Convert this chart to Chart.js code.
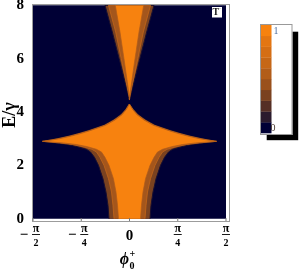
<!DOCTYPE html>
<html>
<head>
<meta charset="utf-8">
<script src="https://cdn.jsdelivr.net/npm/chart.js@4.4.1/dist/chart.umd.min.js"></script>
<style>
  html, body { margin: 0; padding: 0; background: #fff; }
  #chart { display: block; }
</style>
</head>
<body>
<canvas id="chart" width="300" height="273"></canvas>
<script>
// plot range: phi0+ (rad) and E/gamma
const PHI_RANGE = [-Math.PI / 2, Math.PI / 2];
const E_RANGE = [0, 8];

// lower star lobe: half widths (rad) of the contour boundaries at each E
const STAR_E     = [0, 0.5, 1, 1.5, 2, 2.3, 2.5, 2.6, 2.7, 2.78, 2.84, 2.9, 2.95, 3.0, 3.1, 3.2, 3.3, 3.5, 3.7, 3.9, 4.1, 4.3];
const STAR_OUTER = [0.334, 0.350, 0.383, 0.432, 0.505, 0.570, 0.635, 0.700, 0.847, 1.010, 1.205, 1.417, 1.303, 1.189, 0.993, 0.831, 0.684, 0.423, 0.269, 0.147, 0.065, 0.008];
const STAR_MID   = [0.252, 0.269, 0.293, 0.342, 0.415, 0.480, 0.537, 0.611, 0.757, 0.928, 1.140, 1.417, 1.279, 1.164, 0.969, 0.806, 0.660, 0.407, 0.252, 0.134, 0.057, 0.003];
const STAR_INNER = [0.179, 0.195, 0.220, 0.261, 0.334, 0.399, 0.456, 0.537, 0.684, 0.863, 1.075, 1.417, 1.262, 1.140, 0.945, 0.782, 0.643, 0.391, 0.236, 0.122, 0.049, 0];

// upper wedge
const WEDGE_E     = [4.46, 4.55, 5, 6, 7, 8];
const WEDGE_OUTER = [0, 0.010, 0.059, 0.168, 0.280, 0.399];
const WEDGE_MID   = [0, 0.005, 0.044, 0.135, 0.225, 0.342];
const WEDGE_INNER = [0, 0, 0.028, 0.090, 0.155, 0.231];

// colour levels 0 .. 1 (bottom to top of the bar legend)
const LEVEL_COLORS = ['#000035', '#2b1b2d', '#552f25', '#7a4220', '#9a511c', '#b25d19', '#c66716', '#d56e14', '#e47612', '#f7820f'];

// ticks
const Y_TICKS = [0, 2, 4, 6, 8];
const X_TICKS = [-Math.PI / 2, -Math.PI / 4, 0, Math.PI / 4, Math.PI / 2];
const X_TICK_SIGN = ['\u2212', '\u2212', '', '', ''];
const X_TICK_NUM = ['\u03c0', '\u03c0', '0', '\u03c0', '\u03c0'];
const X_TICK_DEN = ['2', '4', '', '4', '2'];

const SERIF = '"Liberation Serif", "DejaVu Serif", serif';

/**
 * Closed outline of a symmetric region: left edge going up, right edge coming down
 */
function outline(es, widths) {
    const left = es.map((e, i) => ({ x: -widths[i], y: e }));
    const right = es.map((e, i) => ({ x: widths[i], y: e })).reverse();
    return left.concat(right);
}

function region(data, fillColor, lineColor, lineWidth, order) {
    return {
        data: data,
        showLine: true,
        fill: 'shape',
        backgroundColor: fillColor,
        borderColor: lineColor,
        borderWidth: lineWidth,
        pointRadius: 0,
        tension: 0,
        order: order,
    };
}

const background = [
    { x: PHI_RANGE[0], y: E_RANGE[0] },
    { x: PHI_RANGE[1], y: E_RANGE[0] },
    { x: PHI_RANGE[1], y: E_RANGE[1] },
    { x: PHI_RANGE[0], y: E_RANGE[1] },
];

// frame, tick labels, titles and bar legend
const decorations = {
    id: 'decorations',
    afterDraw(chart) {
        const ctx = chart.ctx;
        const area = chart.chartArea;
        const xs = chart.scales.x;

        ctx.save();
        // frame
        ctx.strokeStyle = '#9c9c9c';
        ctx.lineWidth = 1;
        ctx.strokeRect(Math.round(area.left) + 0.5, Math.round(area.top) + 0.5,
            Math.round(area.right - area.left) - 1, Math.round(area.bottom - area.top) - 1);

        // x ticks and labels
        ctx.fillStyle = '#000';
        X_TICKS.forEach((v, i) => {
            const px = xs.getPixelForValue(v);
            ctx.strokeStyle = '#777';
            ctx.lineWidth = 1;
            ctx.beginPath();
            ctx.moveTo(px, area.bottom - 1);
            ctx.lineTo(px, area.bottom - 4);
            ctx.stroke();

            ctx.textAlign = 'center';
            ctx.textBaseline = 'middle';
            if (!X_TICK_DEN[i]) {
                ctx.font = 'bold 15px ' + SERIF;
                ctx.fillText(X_TICK_NUM[i], px, 236);
                return;
            }
            const fx = px + (X_TICK_SIGN[i] ? 3 : 0);
            ctx.font = 'bold 12px ' + SERIF;
            ctx.fillText(X_TICK_NUM[i], fx, 229);
            ctx.font = 'bold 10px ' + SERIF;
            ctx.fillText(X_TICK_DEN[i], fx, 243);
            ctx.strokeStyle = '#000';
            ctx.lineWidth = 0.9;
            ctx.beginPath();
            ctx.moveTo(fx - 4, 234.5);
            ctx.lineTo(fx + 4, 234.5);
            ctx.stroke();
            if (X_TICK_SIGN[i]) {
                ctx.font = 'bold 15px ' + SERIF;
                ctx.fillText(X_TICK_SIGN[i], fx - 12, 235);
            }
        });

        // x title
        ctx.textBaseline = 'alphabetic';
        ctx.textAlign = 'center';
        ctx.font = 'bold italic 16px ' + SERIF;
        ctx.fillText('\u03d5', 124.5, 264);
        ctx.textAlign = 'left';
        ctx.font = 'bold 10px ' + SERIF;
        ctx.fillText('0', 129.5, 268.5);
        ctx.fillText('+', 129.5, 257);

        // y title
        ctx.save();
        ctx.translate(10, 115);
        ctx.rotate(-Math.PI / 2);
        ctx.textAlign = 'center';
        ctx.textBaseline = 'middle';
        ctx.font = 'bold 18px ' + SERIF;
        ctx.fillText('E/\u03b3', 0, 0);
        ctx.restore();

        // series label in the corner
        ctx.fillStyle = '#fff';
        ctx.fillRect(212, 7, 10, 10.5);
        ctx.fillStyle = '#222';
        ctx.textAlign = 'center';
        ctx.textBaseline = 'middle';
        ctx.font = 'bold 10px ' + SERIF;
        ctx.fillText('T', 215.8, 12.5);
        ctx.fillStyle = '#999';
        ctx.font = '7px ' + SERIF;
        ctx.fillText('\u2212', 219.8, 9);

        // bar legend with drop shadow
        const bx = 260, by = 24, bw = 32.5, bh = 111;
        ctx.fillStyle = '#000';
        ctx.fillRect(bx + 6.7, by + 7.7, bw - 1, bh - 2.5);
        ctx.fillStyle = '#fff';
        ctx.fillRect(bx, by, bw, bh);
        const sh = (bh - 3) / LEVEL_COLORS.length;
        LEVEL_COLORS.forEach((c, i) => {
            ctx.fillStyle = c;
            ctx.fillRect(bx + 1, by + bh - 2 - (i + 1) * sh, 10.5, sh + 0.3);
        });
        ctx.strokeStyle = '#999';
        ctx.lineWidth = 1;
        ctx.strokeRect(bx + 0.5, by + 0.5, bw - 1, bh - 1);
        ctx.textAlign = 'left';
        ctx.font = '10px ' + SERIF;
        ctx.fillStyle = '#4f6f9f';
        ctx.fillText('1', 273.5, 31);
        ctx.fillStyle = '#4a3a30';
        ctx.fillText('0', 270.5, 128);
        ctx.restore();
    },
};

new Chart(document.getElementById('chart'), {
    type: 'scatter',
    data: {
        datasets: [
            region(background, LEVEL_COLORS[0], LEVEL_COLORS[0], 0, 10),
            region(outline(STAR_E, STAR_OUTER), LEVEL_COLORS[3], '#1a1030', 1, 6),
            region(outline(WEDGE_E, WEDGE_OUTER), LEVEL_COLORS[3], '#1a1030', 1, 6),
            region(outline(STAR_E, STAR_MID), '#a4561c', '#c46618', 0.8, 5),
            region(outline(WEDGE_E, WEDGE_MID), '#a4561c', '#c46618', 0.8, 5),
            region(outline(STAR_E, STAR_INNER), LEVEL_COLORS[9], '#b05c1a', 0.7, 4),
            region(outline(WEDGE_E, WEDGE_INNER), LEVEL_COLORS[9], '#b05c1a', 0.7, 4),
        ],
    },
    options: {
        responsive: false,
        animation: false,
        events: [],
        devicePixelRatio: 1,
        layout: { padding: { left: 0, right: 70.5, top: 4, bottom: 0 } },
        plugins: {
            legend: { display: false },
            tooltip: { enabled: false },
        },
        scales: {
            x: {
                type: 'linear',
                min: -1.5871,
                max: 1.6278,
                grid: { display: false },
                border: { display: false },
                ticks: { display: false },
                afterFit(scale) { scale.height = 51; },
            },
            y: {
                type: 'linear',
                min: -0.124,
                max: 8.049,
                grid: { display: false, drawTicks: false },
                border: { display: false },
                ticks: {
                    color: '#000',
                    padding: 8,
                    font: { family: SERIF, size: 15, weight: 'bold' },
                },
                afterBuildTicks(scale) {
                    scale.ticks = Y_TICKS.map(v => ({ value: v }));
                },
                afterFit(scale) {
                    scale.width = 32;
                    scale.paddingTop = 0;
                    scale.paddingBottom = 0;
                },
            },
        },
    },
    plugins: [decorations],
});
</script>
</body>
</html>
